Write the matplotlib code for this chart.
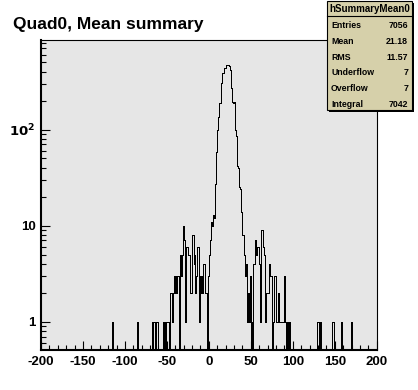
import numpy as np
import matplotlib
matplotlib.use('Agg')
import matplotlib.pyplot as plt
from matplotlib.ticker import FixedLocator, FixedFormatter, MultipleLocator, NullFormatter
from matplotlib.patches import Rectangle
from matplotlib.lines import Line2D

plt.rcParams['font.family'] = ['Liberation Sans', 'DejaVu Sans']
plt.rcParams['font.weight'] = 'bold'
plt.rcParams['mathtext.default'] = 'bf'
plt.rcParams['path.simplify'] = False

# ---------------- data ----------------
x_range = (-200, 200)
bin_width = 1

# isolated entries in the far left tail (bin low edge, count)
far_left_bins = [-115, -86, -68, -66, -65, -63, -62, -61]
far_left_counts = [1, 1, 1, 1, 1, 1, 1, 1]

# contiguous left shoulder, bins -55 .. -1
left_start = -55
left_counts = [1, 0, 1, 0, 1, 1, 1, 0, 0, 2,
               2, 1, 2, 3, 2, 3, 2, 3, 3, 2,
               0, 5, 3, 5, 10, 7, 7, 1, 6, 6,
               5, 5, 2, 2, 2, 8, 8, 4, 5, 2,
               3, 6, 6, 1, 3, 2, 3, 2, 4, 4,
               2, 2, 2, 0, 3]

# main peak, bins 0 .. 41
core_start = 0
core_counts = [5, 7, 7, 11, 10, 13, 12, 27, 28, 58,
               99, 136, 188, 190, 300, 305, 385, 390, 435, 440,
               460, 470, 470, 465, 455, 420, 270, 265, 195, 190,
               192, 100, 85, 45, 42, 40, 25, 24, 14, 13,
               8, 8]

# contiguous right shoulder, bins 42 .. 96
right_start = 42
right_counts = [5, 3, 4, 3, 1, 2, 1, 3, 0, 1,
                0, 4, 4, 7, 5, 6, 6, 6, 4, 1,
                9, 9, 6, 6, 5, 1, 2, 2, 2, 2,
                4, 3, 3, 0, 1, 1, 3, 3, 1, 1,
                2, 2, 1, 1, 1, 1, 1, 1, 3, 1,
                0, 1, 0, 1, 1]

# isolated entries in the far right tail
far_right_bins = [129, 130, 133, 147, 148, 158, 169]
far_right_counts = [1, 1, 1, 1, 1, 1, 1]

x_tick_values = [-200, -150, -100, -50, 0, 50, 100, 150, 200]
y_tick_values = [1, 10, 100]
y_tick_labels = ['1', '10', r'$\mathbf{10^{2}}$']

title = 'Quad0, Mean summary'
stats_name = 'hSummaryMean0'
stats_labels = ['Entries', 'Mean', 'RMS', 'Underflow', 'Overflow', 'Integral']
stats_values = ['7056', '21.18', '11.57', '7', '7', '7042']

# ---------------- build histogram ----------------
edges = np.arange(x_range[0], x_range[1] + bin_width, bin_width)
counts = np.zeros(len(edges) - 1)


def put(start, vals):
    i0 = int((start - x_range[0]) / bin_width)
    counts[i0:i0 + len(vals)] = vals


for b, c in zip(far_left_bins, far_left_counts):
    put(b, [c])
put(left_start, left_counts)
put(core_start, core_counts)
put(right_start, right_counts)
for b, c in zip(far_right_bins, far_right_counts):
    put(b, [c])

# ---------------- figure ----------------
W, H = 418, 390
fig = plt.figure(figsize=(W / 100, H / 100), dpi=100, facecolor='white')

ax_l, ax_r, ax_t, ax_b = 41, 376.7, 40, 350
ax = fig.add_axes([ax_l / W, 1 - ax_b / H, (ax_r - ax_l) / W, (ax_b - ax_t) / H])
ax.set_facecolor('#e6e6e6')
ax.set_yscale('log', nonpositive='clip')

ax.stairs(counts, edges, color='black', lw=0.6, baseline=None, antialiased=False)

ax.set_xlim(*x_range)
ax.set_ylim(0.507, 855)

ax.xaxis.set_major_locator(FixedLocator(x_tick_values))
ax.xaxis.set_minor_locator(MultipleLocator(10))
ax.set_xticklabels([str(v) for v in x_tick_values])

ax.yaxis.set_major_locator(FixedLocator(y_tick_values))
ax.yaxis.set_major_formatter(FixedFormatter(y_tick_labels))
minors = [m * d for d in (0.1, 1, 10, 100) for m in range(2, 10)]
ax.yaxis.set_minor_locator(FixedLocator(minors))
ax.yaxis.set_minor_formatter(NullFormatter())

ax.tick_params(axis='both', which='major', direction='in', length=6.5, width=0.8,
               labelsize=9.5, colors='black')
ax.tick_params(axis='both', which='minor', direction='in', length=3.5, width=0.8)
ax.tick_params(axis='x', which='both', top=False, pad=4)
ax.tick_params(axis='y', which='both', right=False, pad=4)
for lab in ax.get_xticklabels() + ax.get_yticklabels():
    lab.set_fontweight('bold')

for side in ['left', 'bottom']:
    ax.spines[side].set_linewidth(1.5)
for side in ['top', 'right']:
    ax.spines[side].set_linewidth(0.8)

fig.text(13 / W, 1 - 29.5 / H, title, fontsize=12.5, fontweight='bold',
         ha='left', va='baseline')

# ---------------- stats box ----------------
bx_l, bx_r, bx_t, bx_b = 327, 412, 0.5, 110
shadow = Rectangle(((bx_l + 2) / W, 1 - (bx_b + 2) / H), (bx_r - bx_l) / W,
                   (bx_b - bx_t) / H, transform=fig.transFigure,
                   facecolor='black', edgecolor='none', zorder=5)
fig.add_artist(shadow)
box = Rectangle((bx_l / W, 1 - bx_b / H), (bx_r - bx_l) / W, (bx_b - bx_t) / H,
                transform=fig.transFigure, facecolor='#d6d0aa',
                edgecolor='black', lw=0.8, zorder=6)
fig.add_artist(box)
sep_y = 1 - 16 / H
fig.add_artist(Line2D([bx_l / W, bx_r / W], [sep_y, sep_y], transform=fig.transFigure,
                      color='black', lw=0.8, zorder=7))
fig.text((bx_l + bx_r) / 2 / W, 1 - 8.5 / H, stats_name, fontsize=7, fontweight='bold',
         ha='center', va='center', zorder=8)
row_y = [25, 41, 57, 72.5, 88.5, 104.5]
for yy, lab, val in zip(row_y, stats_labels, stats_values):
    fig.text(331 / W, 1 - yy / H, lab, fontsize=6.3, fontweight='bold',
             ha='left', va='center', zorder=8)
    fig.text(408 / W, 1 - yy / H, val, fontsize=6.3, fontweight='bold',
             ha='right', va='center', zorder=8)

fig.savefig('out.png', dpi=100, facecolor='white')
